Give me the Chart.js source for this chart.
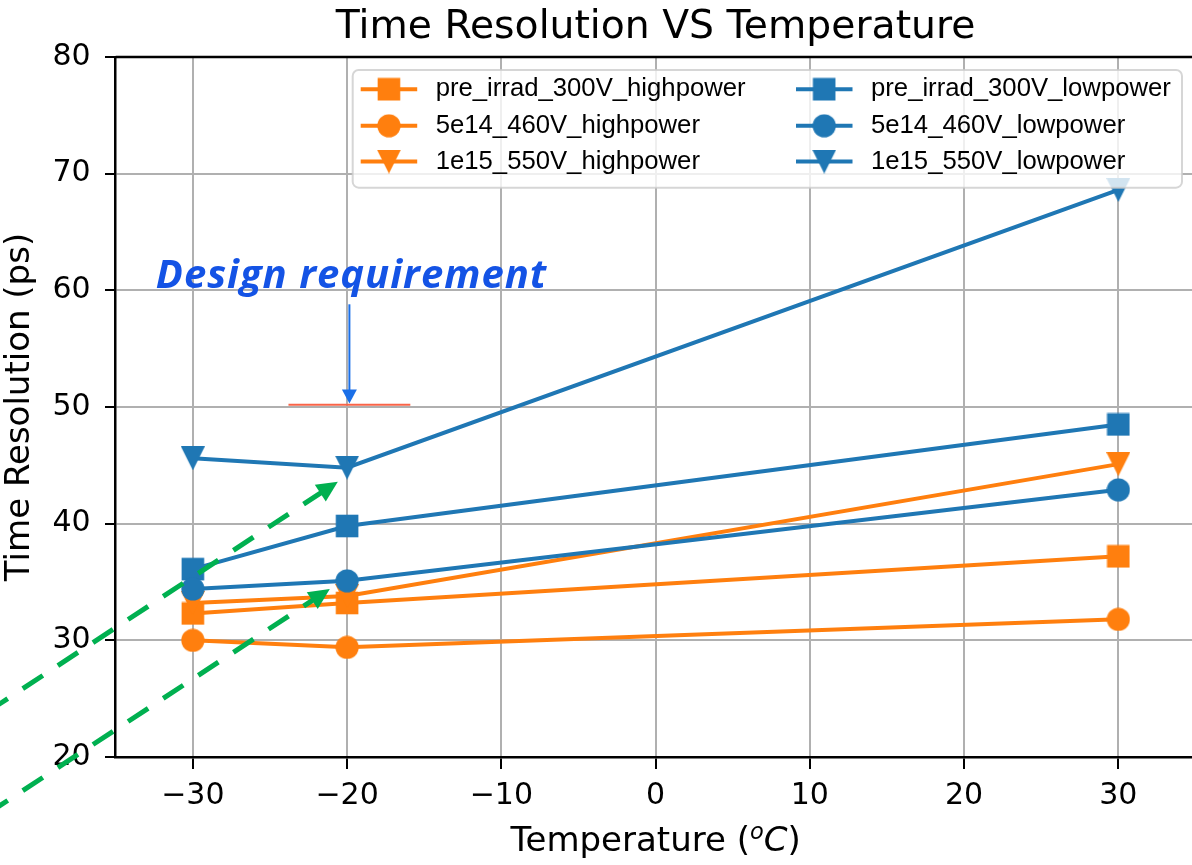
<!DOCTYPE html>
<html>
<head>
<meta charset="utf-8">
<title>Time Resolution VS Temperature</title>
<script src="https://cdn.jsdelivr.net/npm/chart.js@4.4.0/dist/chart.umd.min.js"></script>
<style>
  html, body { margin: 0; padding: 0; background: #fff; overflow: hidden; }
  #wrap { width: 1192px; height: 865px; overflow: hidden; }
  canvas { display: block; }
</style>
</head>
<body>
<div id="wrap"><canvas id="myChart" width="1220" height="865"></canvas></div>
<script>
// measurement temperatures (degC)
const temps = [-30, -20, 30];

// time resolution (ps)
const preIrradHigh = [32.3, 33.2, 37.2];
const fluence5e14High = [30.0, 29.4, 31.8];
const fluence1e15High = [33.2, 33.8, 45.1];
const preIrradLow = [36.1, 39.8, 48.5];
const fluence5e14Low = [34.4, 35.1, 42.9];
const fluence1e15Low = [45.6, 44.8, 68.6];

const seriesLabels = [
  'pre_irrad_300V_highpower', '5e14_460V_highpower', '1e15_550V_highpower',
  'pre_irrad_300V_lowpower', '5e14_460V_lowpower', '1e15_550V_lowpower'
];

const xTicks = [-30, -20, -10, 0, 10, 20, 30];
const yTicks = [20, 30, 40, 50, 60, 70, 80];

const ORANGE = '#ff7f0e';
const BLUE = '#1f77b4';

// annotation overlay, in data units
const reqText = { x: -32.4, y: 60.2 };
const reqLine = { x0: -23.8, x1: -15.9, y: 50.2 };
const reqArrow = { x: -19.85, y0: 58.8, y1: 50.3 };
const greenArrows = [
  { x0: -43.3, y0: 23.88, x1: -20.6, y1: 43.6 },
  { x0: -43.3, y0: 15.14, x1: -21.12, y1: 34.4 }
];

// where the plot frame's right edge should land (it sits just past the window)
const AREA_RIGHT = 1195.5;

function makeMarker(shape, color) {
  const c = document.createElement('canvas');
  c.width = 24; c.height = 24;
  const g = c.getContext('2d');
  g.fillStyle = color;
  g.beginPath();
  if (shape === 'square') {
    g.rect(0.7, 0.7, 22.6, 22.6);
  } else if (shape === 'circle') {
    g.arc(12, 12, 11.6, 0, Math.PI * 2);
  } else {
    g.moveTo(0, 0); g.lineTo(24, 0); g.lineTo(12, 24); g.closePath();
  }
  g.fill();
  return c;
}

const seriesValues = [preIrradHigh, fluence5e14High, fluence1e15High, preIrradLow, fluence5e14Low, fluence1e15Low];
const shapes = ['square', 'circle', 'triangle', 'square', 'circle', 'triangle'];

const datasets = seriesValues.map((vals, i) => {
  const color = i < 3 ? ORANGE : BLUE;
  return {
    label: seriesLabels[i],
    data: temps.map((t, j) => ({ x: t, y: vals[j] })),
    borderColor: color,
    backgroundColor: color,
    borderWidth: 4,
    pointStyle: makeMarker(shapes[i], color),
    pointRadius: 12,
    pointHoverRadius: 12,
    tension: 0,
    order: 6 - i
  };
});

const minus = v => String(v).replace('-', '\u2212');

const framePlugin = {
  id: 'frame',
  beforeDatasetsDraw(chart) {
    const { ctx, chartArea: a } = chart;
    ctx.save();
    ctx.strokeStyle = '#000';
    ctx.lineWidth = 2.5;
    ctx.beginPath();
    ctx.moveTo(a.left, a.top); ctx.lineTo(a.right, a.top); ctx.lineTo(a.right, a.bottom);
    ctx.stroke();
    ctx.restore();
  }
};

function arrowHead(ctx, tx, ty, ux, uy, len, half) {
  const bx = tx - ux * len, by = ty - uy * len;
  ctx.beginPath();
  ctx.moveTo(tx, ty);
  ctx.lineTo(bx - uy * half, by + ux * half);
  ctx.lineTo(bx + uy * half, by - ux * half);
  ctx.closePath();
  ctx.fill();
}

const overlayPlugin = {
  id: 'overlay',
  afterDraw(chart) {
    const { ctx, chartArea: a } = chart;
    const xs = chart.scales.x, ys = chart.scales.y;
    const px = v => xs.getPixelForValue(v), py = v => ys.getPixelForValue(v);
    ctx.save();

    // green dashed arrows
    ctx.strokeStyle = '#00b050';
    ctx.fillStyle = '#00b050';
    ctx.lineWidth = 5;
    greenArrows.forEach(g => {
      const x0 = px(g.x0), y0 = py(g.y0), x1 = px(g.x1), y1 = py(g.y1);
      const d = Math.hypot(x1 - x0, y1 - y0), ux = (x1 - x0) / d, uy = (y1 - y0) / d;
      ctx.setLineDash([24, 18]);
      ctx.beginPath();
      ctx.moveTo(x0, y0);
      ctx.lineTo(x1 - ux * 19, y1 - uy * 19);
      ctx.stroke();
      ctx.setLineDash([]);
      arrowHead(ctx, x1, y1, ux, uy, 21, 10);
    });

    // requirement level
    ctx.strokeStyle = '#fa6448';
    ctx.lineWidth = 2;
    ctx.beginPath();
    ctx.moveTo(px(reqLine.x0), py(reqLine.y));
    ctx.lineTo(px(reqLine.x1), py(reqLine.y));
    ctx.stroke();

    ctx.strokeStyle = '#1a6fe8';
    ctx.fillStyle = '#1a6fe8';
    ctx.lineWidth = 2;
    const ax = px(reqArrow.x), ay0 = py(reqArrow.y0), ay1 = py(reqArrow.y1);
    ctx.beginPath();
    ctx.moveTo(ax, ay0); ctx.lineTo(ax, ay1 - 12);
    ctx.stroke();
    arrowHead(ctx, ax, ay1, 0, 1, 14, 7.5);

    ctx.fillStyle = '#1453e5';
    ctx.font = 'italic bold 40px "Open Sans", "Noto Sans", sans-serif';
    ctx.letterSpacing = '1px';
    ctx.textBaseline = 'alphabetic';
    ctx.textAlign = 'left';
    ctx.fillText('Design requirement', px(reqText.x), py(reqText.y));
    ctx.letterSpacing = '0px';

    // legend, upper right, two columns
    const bx = a.right - 13.5 - 829.3, by = a.top + 13;
    ctx.beginPath();
    ctx.roundRect(bx, by, 829.3, 117.7, 6);
    ctx.fillStyle = 'rgba(255,255,255,0.8)';
    ctx.fill();
    ctx.strokeStyle = 'rgba(204,204,204,0.8)';
    ctx.lineWidth = 2;
    ctx.stroke();
    const colX = [bx + 8, bx + 443.3];
    const rowY = [by + 19.3, by + 55.8, by + 91.6];
    ctx.font = '25.7px "Liberation Sans", Arial, sans-serif';
    ctx.textBaseline = 'middle';
    chart.data.datasets.forEach((ds, i) => {
      const cx = colX[Math.floor(i / 3)], cy = rowY[i % 3];
      ctx.strokeStyle = ds.borderColor;
      ctx.lineWidth = 4;
      ctx.beginPath();
      ctx.moveTo(cx, cy); ctx.lineTo(cx + 56.5, cy);
      ctx.stroke();
      const m = ds.pointStyle;
      ctx.drawImage(m, cx + 28.2 - m.width / 2, cy - m.height / 2);
      ctx.fillStyle = '#000';
      ctx.fillText(ds.label, cx + 75, cy);
    });

    // x axis title with math-style degree C
    const parts = [
      { t: 'Temperature (', f: '34px "DejaVu Sans"', dy: 0 },
      { t: 'o', f: 'italic 22.5px "DejaVu Sans"', dy: -12 },
      { t: 'C', f: 'italic 34px "DejaVu Sans"', dy: 0 },
      { t: ')', f: '34px "DejaVu Sans"', dy: 0 }
    ];
    ctx.textBaseline = 'alphabetic';
    ctx.fillStyle = '#000';
    let total = 0;
    parts.forEach(p => { ctx.font = p.f; p.w = ctx.measureText(p.t).width; total += p.w; });
    let tx = (a.left + a.right) / 2 - total / 2;
    const baseY = 851;
    parts.forEach(p => { ctx.font = p.f; ctx.fillText(p.t, tx, baseY + p.dy); tx += p.w; });

    ctx.restore();
  }
};

Chart.defaults.font.family = '"DejaVu Sans"';
Chart.defaults.color = '#000';

const ctx = document.getElementById('myChart').getContext('2d');
const chart = new Chart(ctx, {
  type: 'line',
  data: { datasets },
  options: {
    responsive: false,
    animation: false,
    events: [],
    layout: { padding: { left: 0, right: 24.5, top: 0, bottom: 0 } },
    plugins: {
      legend: { display: false },
      tooltip: { enabled: false },
      title: {
        display: true,
        text: 'Time Resolution VS Temperature',
        fullSize: false,
        color: '#000',
        font: { family: '"DejaVu Sans"', size: 39.3, weight: 'normal', lineHeight: 1.2 },
        padding: { top: 4.5, bottom: 5.3 }
      }
    },
    scales: {
      x: {
        type: 'linear',
        min: -35,
        max: 35,
        afterBuildTicks: s => { s.ticks = xTicks.map(v => ({ value: v })); },
        afterFit: s => { s.height = 108; },
        grid: { color: '#b0b0b0', lineWidth: 2, tickColor: '#000', tickWidth: 2, tickLength: 12 },
        border: { color: '#000', width: 2.5 },
        ticks: {
          color: '#000', autoSkip: false, maxRotation: 0, padding: 9.4,
          font: { family: '"DejaVu Sans"', size: 30 },
          callback: v => minus(v)
        }
      },
      y: {
        min: 20,
        max: 80,
        afterBuildTicks: s => { s.ticks = yTicks.map(v => ({ value: v })); },
        afterFit: s => { s.width = 115.7; },
        grid: { color: '#b0b0b0', lineWidth: 2, tickColor: '#000', tickWidth: 2, tickLength: 10.7 },
        border: { color: '#000', width: 2.5 },
        ticks: {
          color: '#000', padding: 14.3,
          font: { family: '"DejaVu Sans"', size: 30 },
          callback: v => minus(v)
        },
        title: {
          display: true,
          text: 'Time Resolution (ps)',
          color: '#000',
          font: { family: '"DejaVu Sans"', size: 34, lineHeight: 1.2 },
          padding: { top: 0, bottom: 0 }
        }
      }
    }
  },
  plugins: [framePlugin, overlayPlugin]
});

// nudge the right padding until the frame edge sits where the reference has it
for (let k = 0; k < 4; k++) {
  const err = AREA_RIGHT - chart.chartArea.right;
  if (Math.abs(err) < 0.3) break;
  chart.options.layout.padding.right -= err;
  chart.update();
}
</script>
</body>
</html>
